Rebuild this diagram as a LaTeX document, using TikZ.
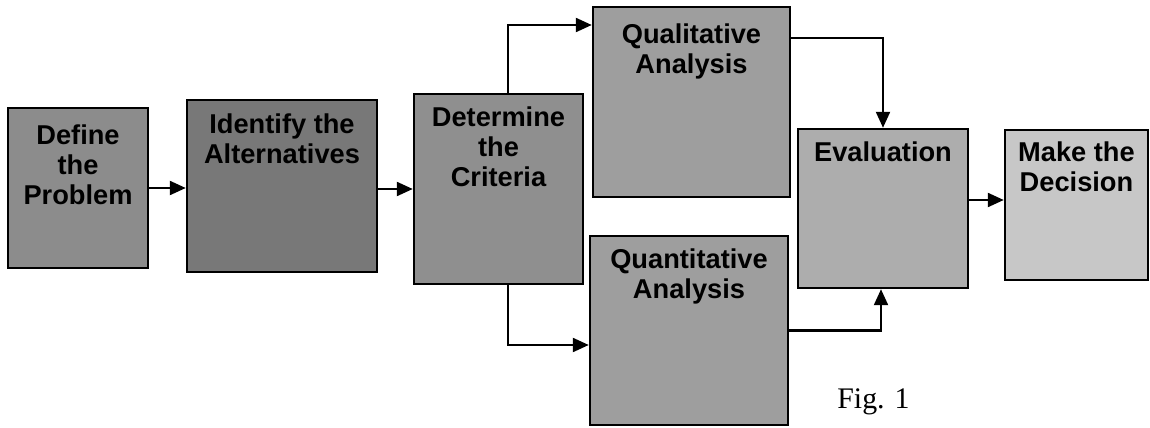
\documentclass[tikz,border=0pt]{standalone}
\usepackage{fontspec}
\setmainfont{Liberation Serif}
\newfontfamily\boxfont{Liberation Sans}
\usetikzlibrary{arrows.meta,positioning}
\definecolor{grainA}{gray}{0.55}
\definecolor{grainB}{gray}{0.47}
\definecolor{grainC}{gray}{0.56}
\definecolor{grainD}{gray}{0.62}
\definecolor{grainE}{gray}{0.68}
\definecolor{grainF}{gray}{0.78}
\tikzstyle{block} = [rectangle, draw, line width=1.4pt, inner sep=0pt]
\tikzstyle{caption} = [inner sep=0pt, anchor=north, align=center,
                 font=\boxfont\bfseries\fontsize{15.5}{17}\selectfont]
\tikzstyle{branch} = [line width=1.3pt, draw, -{Triangle[length=0.32cm,width=0.28cm]}]

\begin{document}
\begin{tikzpicture}
\useasboundingbox (0,0) rectangle (23,8.54);

	%boxes
\node [block, fill=grainA, minimum width=2.8cm, minimum height=3.2cm] at (1.56,4.78) (def) {};
\node [block, fill=grainB, minimum width=3.8cm, minimum height=3.44cm] at (5.64,4.82) (alt) {};
\node [block, fill=grainC, minimum width=3.38cm, minimum height=3.8cm] at (9.97,4.76) (crit) {};
\node [block, fill=grainD, minimum width=3.94cm, minimum height=3.8cm] at (13.83,6.5) (qual) {};
\node [block, fill=grainD, minimum width=3.96cm, minimum height=3.78cm] at (13.78,1.93) (quant) {};
\node [block, fill=grainE, minimum width=3.4cm, minimum height=3.18cm] at (17.66,4.37) (eval) {};
\node [block, fill=grainF, minimum width=2.86cm, minimum height=3cm] at (21.53,4.44) (dec) {};

	%texts
\node [caption, below=0.36cm of def.north] (defT) {Define\\the\\Problem};
\node [caption, below=0.3cm of alt.north] (altT) {Identify the\\Alternatives};
\node [caption, below=0.28cm of crit.north] (critT) {Determine\\the\\Criteria};
\node [caption, below=0.36cm of qual.north] (qualT) {Qualitative\\Analysis};
\node [caption, below=0.28cm of quant.north] (quantT) {Quantitative\\Analysis};
\node [caption, below=0.28cm of eval.north] (evalT) {Evaluation};
\node [caption, below=0.26cm of dec.north] (decT) {Make the\\Decision};

	%connectors
\path[branch] (def.east) -- (def.east -| alt.west);
\path[branch] (alt.east |- crit.west) -- (crit.west);
\path[branch] ([xshift=0.19cm]crit.north) |- ([yshift=1.54cm]qual.west);
\path[branch] ([xshift=0.19cm]crit.south) |- ([yshift=-0.29cm]quant.west);
\path[branch] ([yshift=1.28cm]qual.east) -| (eval.north);
\path[branch] (quant.east) -| ([xshift=-0.04cm]eval.south);
\path[branch] ([yshift=0.17cm]eval.east) -- ([yshift=0.17cm]eval.east -| dec.west);

\node [anchor=base west, inner sep=0pt, font=\fontsize{17}{20}\selectfont] at (16.74,0.38) (fig) {Fig. 1};

\end{tikzpicture}
\end{document}
